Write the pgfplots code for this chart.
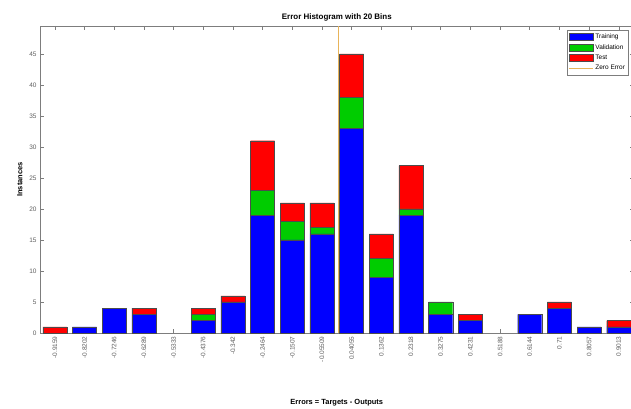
\documentclass[border=0pt]{standalone}
\usepackage{pgfplots}
\usepackage{pgfplotstable}
\pgfplotsset{compat=1.18}
\usepackage{fontspec}
\setmainfont{Liberation Sans}
\definecolor{tbl}{RGB}{0,0,255}
\definecolor{vgr}{RGB}{0,204,0}
\definecolor{tred}{RGB}{255,0,0}
\definecolor{zer}{RGB}{232,180,90}
\definecolor{axg}{RGB}{125,125,125}
\definecolor{lblg}{RGB}{95,95,95}
\pgfplotsset{
  barleg/.style={legend image code/.code={\draw[##1, draw=black!70] (0bp,-3.5bp) rectangle (24bp,3.5bp);}},
  lineleg/.style={legend image code/.code={\draw[##1] (0bp,0bp) -- (24bp,0bp);}},
}
\pgfplotstableread{
x tr va te
0 0 0 1
1 1 0 0
2 4 0 0
3 3 0 1
4 0 0 0
5 2 1 1
6 5 0 1
7 19 4 8
8 15 3 3
9 16 1 4
10 33 5 7
11 9 3 4
12 19 1 7
13 3 2 0
14 2 0 1
15 0 0 0
16 3 0 0
17 4 0 1
18 1 0 0
19 1 0 1
}\histdata
\begin{document}
\begin{tikzpicture}
\begin{axis}[name=ax, scale only axis, width=593.6bp, height=307bp,
  ybar stacked, bar width=0.81,
  xmin=-0.5, xmax=19.5, ymin=0, ymax=49.5,
  xtick={0,...,19},
  xticklabels={-0.9159,-0.8202,-0.7246,-0.6289,-0.5333,-0.4376,-0.342,-0.2464,-0.1507,-0.05509,0.04055,0.1362,0.2318,0.3275,0.4231,0.5188,0.6144,0.71,0.8057,0.9013},
  x tick label style={rotate=90, anchor=east, font=\fontsize{6.5}{7.5}\selectfont, text=lblg},
  ytick={0,5,...,45},
  y tick label style={font=\fontsize{6.5}{7.5}\selectfont, text=lblg},
  /pgf/number format/assume math mode=true,
  tick align=inside, major tick length=4bp,
  axis line style={axg}, tick style={axg, line width=0.5pt},
  title={\textbf{Error Histogram with 20 Bins}},
  title style={font=\fontsize{8}{9}\selectfont, yshift=-4.5bp},
  xlabel={\textbf{Errors = Targets - Outputs}},
  xlabel style={font=\fontsize{7.5}{9}\selectfont, yshift=-30bp},
  ylabel={\textbf{Instances}},
  ylabel style={font=\fontsize{7.5}{9}\selectfont},
  legend style={at={(1,1)}, anchor=north east, xshift=-5bp, yshift=-4bp, font=\fontsize{6.5}{7.5}\selectfont, draw=axg, inner sep=1.5pt, row sep=0.5pt, legend cell align=left},
]
\addplot[fill=tbl, draw=black!70, line width=0.4pt, barleg] table[x=x, y=tr] {\histdata};
\addlegendentry{Training}
\addplot[fill=vgr, draw=black!70, line width=0.4pt, barleg] table[x=x, y=va] {\histdata};
\addlegendentry{Validation}
\addplot[fill=tred, draw=black!70, line width=0.4pt, barleg] table[x=x, y=te] {\histdata};
\addlegendentry{Test}
\addlegendimage{zer, line width=1pt, lineleg}
\addlegendentry{Zero Error}
\end{axis}
\begin{axis}[at={(ax.south west)}, anchor=south west, scale only axis, width=593.6bp, height=307bp,
  xmin=-0.5, xmax=19.5, ymin=0, ymax=49.5, hide axis]
\addplot[zer, line width=1pt] coordinates {(9.57,0) (9.57,49.5)};
\end{axis}
\pgfresetboundingbox
\path ([shift={(-40bp,-76bp)}]ax.south west) rectangle ([shift={(-2.6bp,26bp)}]ax.north east);
\end{tikzpicture}
\end{document}
